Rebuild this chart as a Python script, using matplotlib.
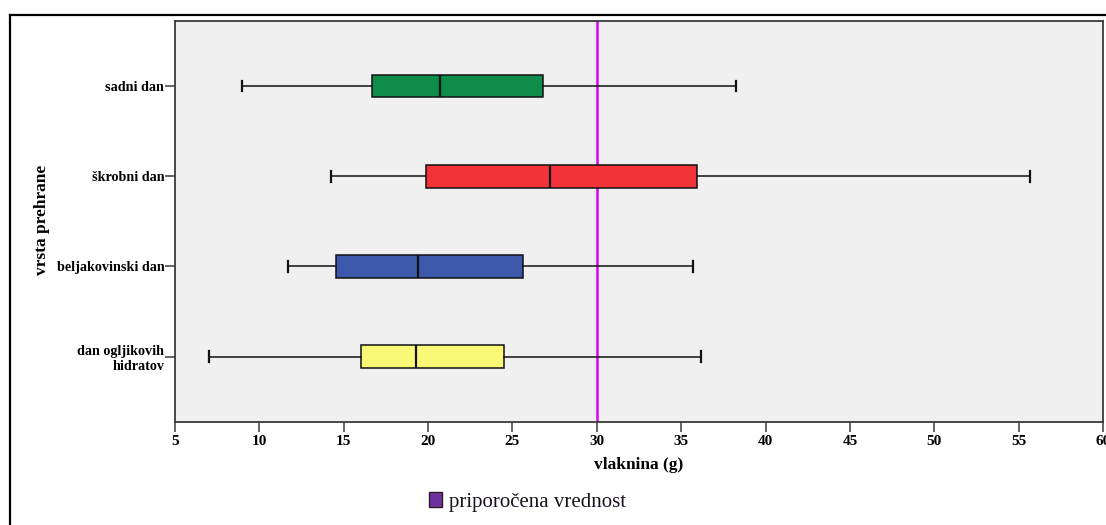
import matplotlib
matplotlib.use("Agg")
import matplotlib.pyplot as plt
from matplotlib.lines import Line2D
from matplotlib.patches import Patch

# ---- data ----
categories = ["sadni dan", "škrobni dan", "beljakovinski dan", "dan ogljikovih\nhidratov"]
whisker_low = [9.0, 14.25, 11.7, 7.0]
q1 = [16.7, 19.85, 14.55, 16.05]
median = [20.7, 27.25, 19.4, 19.3]
q3 = [26.8, 35.95, 25.6, 24.5]
whisker_high = [38.25, 55.65, 35.7, 36.2]
recommended = 30
box_colors = ["#0F8C49", "#F2333A", "#3D58AA", "#FAF877"]
x_ticks = [5, 10, 15, 20, 25, 30, 35, 40, 45, 50, 55, 60]
legend_label = "priporočena vrednost"
x_label = "vlaknina (g)"
y_label = "vrsta prehrane"

serif = ["Liberation Serif", "DejaVu Serif"]

fig = plt.figure(figsize=(11.06, 5.25), dpi=100)
ax = fig.add_axes([175 / 1106, 1 - 421.7 / 525, 928 / 1106, 401 / 525])
ax.set_facecolor("#F0F0F0")

n = len(categories)
positions = list(range(n, 0, -1))
stats = []
for i in range(n):
    stats.append(dict(whislo=whisker_low[i], q1=q1[i], med=median[i],
                      q3=q3[i], whishi=whisker_high[i], fliers=[], label=categories[i]))

bp = ax.bxp(stats, positions=positions, orientation="horizontal", widths=0.252,
            patch_artist=True, showfliers=False, capwidths=0.12,
            boxprops=dict(edgecolor="#111111", linewidth=1.1),
            medianprops=dict(color="#111111", linewidth=1.6),
            whiskerprops=dict(color="#111111", linewidth=1.1),
            capprops=dict(color="#111111", linewidth=1.6))
for patch, c in zip(bp["boxes"], box_colors):
    patch.set_facecolor(c)

ax.axvline(recommended, color="#DD00F5", linewidth=1.8, zorder=1)

ax.set_xlim(5, 60)
ax.set_ylim(0.28, n + 0.724)
ax.set_xticks(x_ticks)
ax.set_xticklabels([str(t) for t in x_ticks])
ax.set_yticks(positions)
ax.set_yticklabels(categories)

for s in ax.spines.values():
    s.set_color("#3A3A3A")
    s.set_linewidth(1.3)
ax.tick_params(axis="both", direction="out", length=7.2, width=1.1, color="#3A3A3A")
ax.tick_params(axis="x", pad=2.5)
ax.tick_params(axis="y", pad=0.5)
for lab in ax.get_xticklabels():
    lab.set_fontfamily(serif)
    lab.set_fontweight("bold")
    lab.set_fontsize(11)
for lab in ax.get_yticklabels():
    lab.set_fontfamily(serif)
    lab.set_fontweight("bold")
    lab.set_fontsize(10.2)
    lab.set_linespacing(1.15)

ax.set_xlabel(x_label, fontfamily=serif, fontweight="bold", fontsize=12.5, labelpad=6)
fig.text(42 / 1106, 1 - 220 / 525, y_label, rotation=90, ha="center", va="center",
         fontfamily=serif, fontweight="bold", fontsize=12.5)

# legend
handle = Patch(facecolor="#70309F", edgecolor="#222222", linewidth=1.0)
fig.legend([handle], [legend_label], loc="center left",
           bbox_to_anchor=(429 / 1106, 1 - 502 / 525), frameon=False,
           prop=dict(family=serif, size=15), handlelength=0.62, handleheight=0.72,
           handletextpad=0.34, borderaxespad=0, borderpad=0, labelcolor="#1A1020")

# outer frame (top and left visible)
fig.add_artist(Line2D([10 / 1106, 1.0], [1 - 15 / 525, 1 - 15 / 525],
                      transform=fig.transFigure, color="black", linewidth=1.6))
fig.add_artist(Line2D([10 / 1106, 10 / 1106], [0, 1 - 15 / 525],
                      transform=fig.transFigure, color="black", linewidth=1.6))

fig.savefig("out.png", dpi=100)
